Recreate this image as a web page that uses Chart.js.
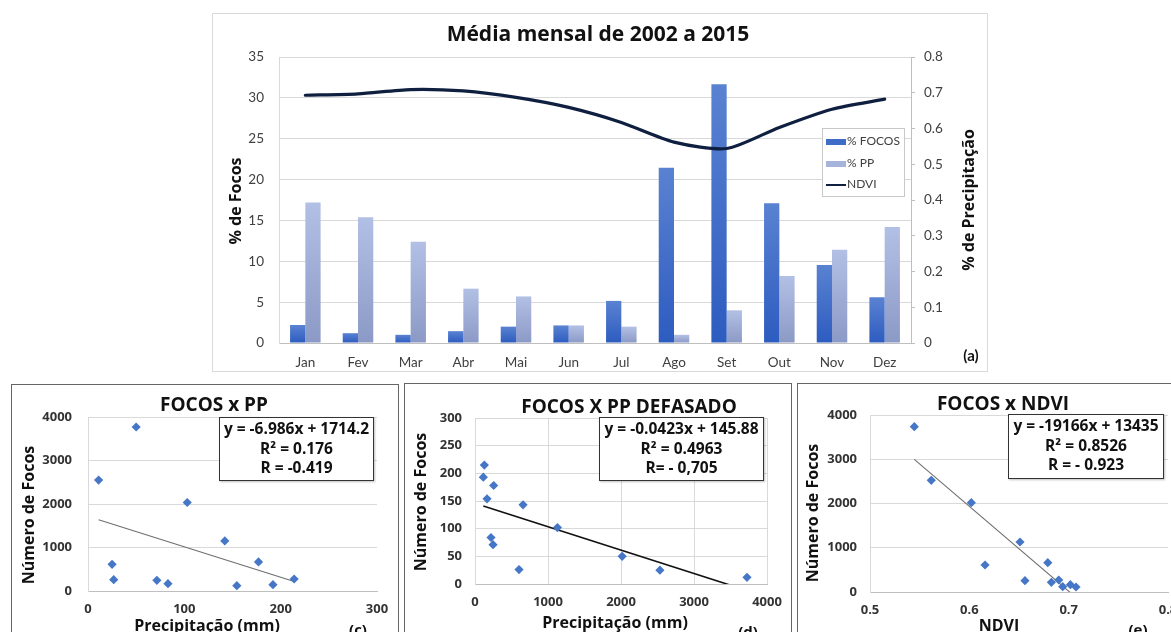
<!DOCTYPE html>
<html>
<head>
<meta charset="utf-8">
<script src="https://cdn.jsdelivr.net/npm/chart.js@4/dist/chart.umd.min.js"></script>
<style>
  html, body { margin: 0; padding: 0; background: #fff; }
  body { position: relative; width: 1171px; height: 632px; overflow: hidden; font-family: "Open Sans", sans-serif; color: #111; }
  canvas { position: absolute; }
  .frame { position: absolute; box-sizing: border-box; pointer-events: none; }
  .lbl { position: absolute; white-space: nowrap; transform: translate(-50%, -50%); font-weight: 700; }
  .vert { transform: translate(-50%, -50%) rotate(-90deg); }
  .eq { position: absolute; box-sizing: border-box; border: 1.5px solid #333; background: #fff; text-align: center;
        font-weight: 700; font-size: 15.5px; line-height: 19.5px; color: #111; padding-top: 1px; box-shadow: 1px 1px 2px rgba(0,0,0,0.25); }
  .legend { position: absolute; box-sizing: border-box; border: 1px solid #c8c8c8; background: #fff; font-family: Lato, sans-serif; font-size: 12px; color: #404040; }
  .legend div { position: absolute; left: 3px; height: 14px; line-height: 14px; white-space: nowrap; }
  .legend span { display: inline-block; vertical-align: middle; width: 20px; margin-right: 1px; }
</style>
</head>
<body>

<!-- (a) monthly averages -->
<canvas id="cMain" width="776" height="359" style="left:212px;top:13px"></canvas>
<div class="frame" style="left:212px;top:13px;width:776px;height:359px;border:1px solid #d9d9d9"></div>
<div class="lbl" style="left:598px;top:33px;font-size:21px">Média mensal de 2002 a 2015</div>
<div class="lbl vert" style="left:235px;top:201px;font-size:16px">% de Focos</div>
<div class="lbl vert" style="left:968px;top:200px;font-size:16px">% de Precipitação</div>
<div class="lbl" style="left:971px;top:355px;font-size:15px;font-family:Lato,sans-serif">(a)</div>
<div class="legend" style="left:822px;top:128px;width:83px;height:69px">
  <div style="top:5px"><span style="height:6px;background:#3f6cc6"></span>% FOCOS</div>
  <div style="top:27px"><span style="height:6px;background:#a6b4dc"></span>% PP</div>
  <div style="top:48px"><span style="height:2.5px;background:#0f1f3f"></span>NDVI</div>
</div>

<!-- (c) fires x precipitation -->
<canvas id="cPP" width="387" height="260" style="left:11px;top:384px"></canvas>
<div class="frame" style="left:11px;top:384px;width:388px;height:300px;border:1.5px solid #666"></div>
<div class="lbl" style="left:214px;top:404px;font-size:19px">FOCOS x PP</div>
<div class="lbl vert" style="left:28px;top:515px;font-size:16px">Número de Focos</div>
<div class="lbl" style="left:207px;top:625px;font-size:16px">Precipitação (mm)</div>
<div class="lbl" style="left:358px;top:629px;font-size:15px">(c)</div>
<div class="eq" style="left:219px;top:417px;width:155px;height:64px">y = -6.986x + 1714.2<br>R² = 0.176<br>R = -0.419</div>

<!-- (d) fires x lagged precipitation -->
<canvas id="cLag" width="387" height="260" style="left:404px;top:383px"></canvas>
<div class="frame" style="left:404px;top:383px;width:388px;height:300px;border:1.5px solid #666"></div>
<div class="lbl" style="left:629px;top:406px;font-size:19px">FOCOS X PP DEFASADO</div>
<div class="lbl vert" style="left:420px;top:502px;font-size:16px">Número de Focos</div>
<div class="lbl" style="left:615px;top:622px;font-size:16px">Precipitação (mm)</div>
<div class="lbl" style="left:748px;top:631px;font-size:15px">(d)</div>
<div class="eq" style="left:599px;top:417px;width:165px;height:64px">y = -0.0423x + 145.88<br>R² = 0.4963<br>R= - 0,705</div>

<!-- (e) fires x NDVI -->
<canvas id="cNdvi" width="400" height="260" style="left:797px;top:383px"></canvas>
<div class="frame" style="left:797px;top:383px;width:400px;height:300px;border:1.5px solid #666"></div>
<div class="lbl" style="left:1003px;top:403px;font-size:19px">FOCOS x NDVI</div>
<div class="lbl vert" style="left:812px;top:513px;font-size:16px">Número de Focos</div>
<div class="lbl" style="left:999px;top:625px;font-size:16px">NDVI</div>
<div class="lbl" style="left:1138px;top:629px;font-size:15px">(e)</div>
<div class="eq" style="left:1008px;top:414px;width:156px;height:65px">y = -19166x + 13435<br>R² = 0.8526<br>R = - 0.923</div>

<script>
// ---- monthly series ----
const months = ['Jan', 'Fev', 'Mar', 'Abr', 'Mai', 'Jun', 'Jul', 'Ago', 'Set', 'Out', 'Nov', 'Dez'];
const focosPct = [2.2, 1.2, 1.0, 1.45, 2.0, 2.15, 5.15, 21.45, 31.65, 17.1, 9.55, 5.6];
const ppPct = [17.2, 15.4, 12.4, 6.65, 5.7, 2.15, 2.0, 1.0, 4.0, 8.2, 11.4, 14.2];
const ndvi = [0.693, 0.697, 0.709, 0.705, 0.687, 0.659, 0.617, 0.562, 0.544, 0.603, 0.654, 0.682];

// ---- scatter: fires vs precipitation ----
const ppX = [50, 11, 103, 25, 26.7, 71.5, 83, 142, 154.5, 177, 192, 214];
const ppFocos = [3770, 2549, 2035, 614, 261, 246, 169, 1152, 123, 668, 146, 276];

// ---- scatter: fires vs lagged precipitation ----
const lagX = [128, 114, 256, 165, 658, 1129, 219, 247, 603, 2016, 2533, 3726];
const lagFocos = [215, 193, 178, 154, 143, 102, 84, 71, 26, 50, 25, 12];

// ---- scatter: fires vs NDVI ----
const ndviX = [0.5446, 0.5617, 0.602, 0.6158, 0.651, 0.656, 0.679, 0.6826, 0.690, 0.694, 0.7017, 0.7074];
const ndviFocos = [3736, 2524, 2019, 610, 1130, 256, 663, 218, 271, 120, 166, 113];

// ---- fitted trend lines (slope, intercept) as printed in each box ----
const trendPP = [-6.986, 1714.2];
const trendLag = [-0.0423, 145.88];
const trendNdvi = [-19166, 13435];

// ---- axis tick settings: [min, max, step] ----
const ticksFocosPct = [0, 35, 5];
const ticksPrecPct = [0, 0.8, 0.1];
const ticksPP = { x: [0, 300, 100], y: [0, 4000, 1000] };
const ticksLag = { x: [0, 4000, 1000], y: [0, 300, 50] };
const ticksNdvi = { x: [0.5, 0.8, 0.1], y: [0, 4000, 1000] };

// fixed scale thickness so the plot areas land in exact places
function fixW(w) {
  return s => { s.width = w; s.paddingTop = s.paddingBottom = s.paddingLeft = s.paddingRight = 0; };
}
function fixH(h) {
  return s => { s.height = h; s.paddingTop = s.paddingBottom = s.paddingLeft = s.paddingRight = 0; };
}
// plain numbers, no thousands separator
const plain = v => String(Math.round(v * 1000) / 1000);

// vertical gradient inside each bar, light at the top, darker at the base
function barFill(top, bottom) {
  return ctx => {
    const chart = ctx.chart;
    if (!chart.chartArea || ctx.type !== 'data' || !ctx.parsed) return top;
    const yScale = chart.scales.y;
    const yTop = yScale.getPixelForValue(ctx.parsed.y);
    const yBase = yScale.getPixelForValue(0);
    if (!isFinite(yTop) || Math.abs(yBase - yTop) < 1) return top;
    const g = chart.ctx.createLinearGradient(0, yTop, 0, yBase);
    g.addColorStop(0, top);
    g.addColorStop(1, bottom);
    return g;
  };
}

Chart.defaults.animation = false;
Chart.defaults.responsive = false;
Chart.defaults.plugins.legend.display = false;
Chart.defaults.plugins.tooltip.enabled = false;

const mainTickFont = { family: 'Lato', size: 13.5 };

new Chart(document.getElementById('cMain'), {
  data: {
    labels: months,
    datasets: [
      { type: 'line', label: 'NDVI', data: ndvi, yAxisID: 'y1', order: 0,
        borderColor: '#0f1f3f', borderWidth: 3.2, pointRadius: 0, tension: 0.25, borderCapStyle: 'round' },
      { type: 'bar', label: '% FOCOS', data: focosPct, yAxisID: 'y', order: 1,
        backgroundColor: barFill('#5a82d2', '#2d5cc0'), barPercentage: 1, categoryPercentage: 0.58 },
      { type: 'bar', label: '% PP', data: ppPct, yAxisID: 'y', order: 2,
        backgroundColor: barFill('#b3c0e5', '#8b99c6'), barPercentage: 1, categoryPercentage: 0.58 }
    ]
  },
  options: {
    layout: { padding: { top: 44, left: 0, right: 0, bottom: 0 } },
    scales: {
      x: {
        afterFit: fixH(29),
        grid: { display: false, drawTicks: false },
        border: { color: '#bfbfbf' },
        ticks: { padding: 12, color: '#404040', font: mainTickFont }
      },
      y: {
        position: 'left', min: ticksFocosPct[0], max: ticksFocosPct[1],
        afterFit: fixW(67),
        grid: { color: '#d9d9d9', drawTicks: false },
        border: { color: '#d9d9d9' },
        ticks: { stepSize: ticksFocosPct[2], padding: 15, color: '#404040', font: mainTickFont }
      },
      y1: {
        position: 'right', min: ticksPrecPct[0], max: ticksPrecPct[1],
        afterFit: fixW(77),
        grid: { drawOnChartArea: false, drawTicks: true, tickLength: 4, color: '#bfbfbf' },
        border: { color: '#bfbfbf' },
        ticks: { stepSize: ticksPrecPct[2], padding: 9, color: '#404040', font: mainTickFont, callback: plain }
      }
    }
  }
});

function scatterChart(id, xs, ys, trend, xr, yr, plot, trendStyle, vGrid) {
  const xmin = Math.min(...xs), xmax = Math.max(...xs);
  const line = [xmin, xmax].map(x => ({ x, y: trend[0] * x + trend[1] }));
  const tickFont = { family: 'Open Sans', size: 13, weight: 'bold' };
  new Chart(document.getElementById(id), {
    type: 'scatter',
    data: {
      datasets: [
        { label: 'trend', data: line, showLine: true, pointRadius: 0, order: 1,
          borderColor: trendStyle.color, borderWidth: trendStyle.width, clip: 0 },
        { label: 'Focos', data: xs.map((x, i) => ({ x, y: ys[i] })), order: 0,
          pointStyle: 'rectRot', pointRadius: 4.6, backgroundColor: '#4677c6', borderWidth: 0 }
      ]
    },
    options: {
      layout: { padding: { top: plot.top, left: 0, right: plot.right, bottom: 0 } },
      scales: {
        x: {
          type: 'linear', min: xr[0], max: xr[1],
          afterFit: fixH(plot.xh),
          grid: { display: vGrid, color: '#d9d9d9', drawTicks: false },
          border: { color: '#bfbfbf' },
          ticks: { stepSize: xr[2], padding: 10, color: '#333', font: tickFont, autoSkip: false, callback: plain }
        },
        y: {
          min: yr[0], max: yr[1],
          afterFit: fixW(plot.left),
          grid: { color: '#d9d9d9', drawTicks: false },
          border: { color: '#d9d9d9' },
          ticks: { stepSize: yr[2], padding: plot.ypad, color: '#333', font: tickFont, callback: plain }
        }
      }
    }
  });
}

scatterChart('cPP', ppX, ppFocos, trendPP, ticksPP.x, ticksPP.y,
  { top: 33, left: 77, right: 21, xh: 53, ypad: 16 }, { color: '#6f6f6f', width: 1.1 }, false);
scatterChart('cLag', lagX, lagFocos, trendLag, ticksLag.x, ticksLag.y,
  { top: 35, left: 71, right: 24, xh: 59, ypad: 13 }, { color: '#111', width: 1.6 }, true);
scatterChart('cNdvi', ndviX, ndviFocos, trendNdvi, ticksNdvi.x, ticksNdvi.y,
  { top: 32, left: 73, right: 29, xh: 51, ypad: 13 }, { color: '#6f6f6f', width: 1.1 }, false);
</script>
</body>
</html>
